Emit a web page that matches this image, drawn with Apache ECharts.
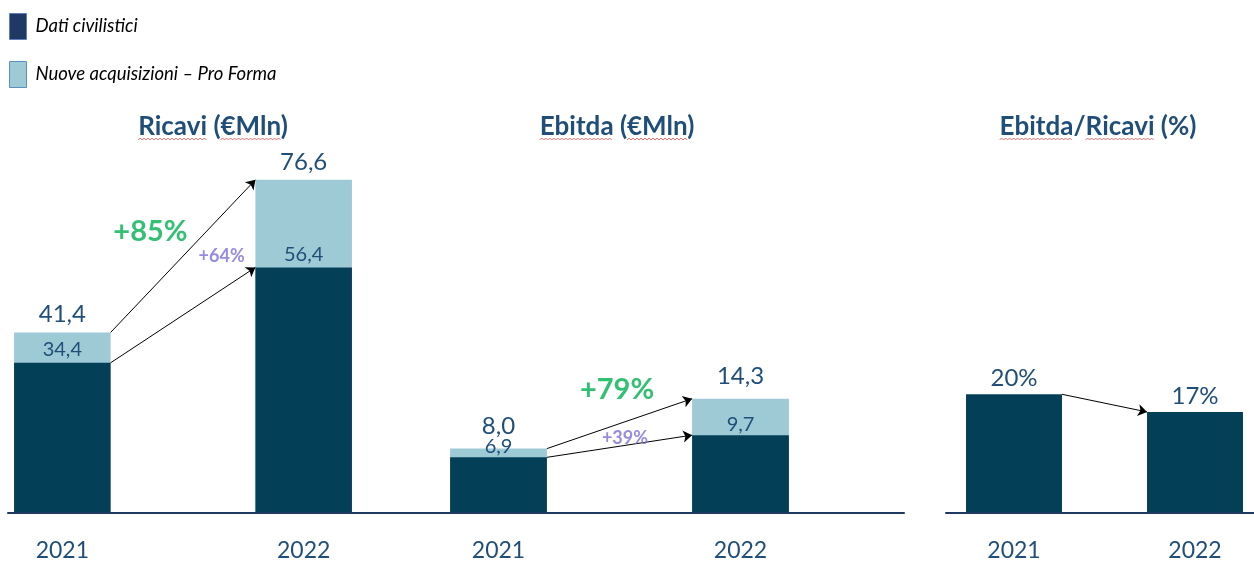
<!DOCTYPE html>
<html><head><meta charset="utf-8">
<script src="https://cdn.jsdelivr.net/npm/echarts@6/dist/echarts.min.js"></script>
<style>html,body{margin:0;padding:0;background:#fff}#c{width:1254px;height:562px}</style>
</head><body><div id="c"></div>
<script>
// ---- data ----
const YEARS = ['2021', '2022'];
const RICAVI_CIVIL = [34.4, 56.4];
const RICAVI_TOT = [41.4, 76.6];
const EBITDA_CIVIL = [6.9, 9.7];
const EBITDA_TOT = [8.0, 14.3];
const MARGIN = [20, 17];
const GROWTH_RICAVI = ['+85%', '+64%'];   // totale, civilistici
const GROWTH_EBITDA = ['+79%', '+39%'];
const TITLES = ['Ricavi (€Mln)', 'Ebitda (€Mln)', 'Ebitda/Ricavi (%)'];
const TITLE_MARKED = [['Ricavi', '€Mln'], ['Ebitda', '€Mln'], ['Ebitda', 'Ricavi']];
const S_CIVIL = 'Dati civilistici';
const S_PRO = 'Nuove acquisizioni – Pro Forma';

// ---- style ----
const FONT = 'Lato';
const DARK = '#033f57', LIGHT = '#9ecad6', NAVY = '#1f4e79', LINE = '#1f3864';
const GREEN = '#00b050', PURPLE = '#7a6fd8';
const BAR_FRAC = 0.8;          // bar width as share of band (Ricavi / Ebitda panels)
const BAR_FRAC_M = 0.53;       // bar width share for the margin panel
const TITLE_FONT = 'bold 26px ' + FONT;
const fmt = v => v.toFixed(1).replace('.', ',');
const cats3 = [YEARS[0], '', YEARS[1]];
const spread = a => [a[0], '-', a[1]];

const chart = echarts.init(document.getElementById('c'));
const xLabel = {show: true, fontSize: 23, color: NAVY, fontFamily: FONT, margin: 27, interval: 0};
const catAxis = (grid, data, bg) => ({type: 'category', gridIndex: grid, data, boundaryGap: bg !== false, axisLine: {show: false}, axisTick: {show: false}, axisLabel: xLabel});
const valX = (grid, min, max) => ({type: 'value', gridIndex: grid, min, max, show: false});
const yAx = (grid, max) => ({type: 'value', gridIndex: grid, min: 0, max, show: false});
const base = grid => ({type: 'category', gridIndex: grid, data: [''], axisLine: {show: true, lineStyle: {color: LINE, width: 2}}, axisTick: {show: false}, axisLabel: {show: false}});
const arrowStyle = {symbol: ['none', 'arrow'], symbolSize: 9, lineStyle: {color: '#000', width: 1, opacity: 1}};

function stackPanel(xi, yi, civil, tot, totDist, inDist, growth, gPos) {
  const e = BAR_FRAC / 2;
  return [
    {type: 'bar', name: S_PRO, xAxisIndex: xi, yAxisIndex: yi, data: spread(tot), barWidth: (BAR_FRAC*100)+'%', barGap: '-100%',
     itemStyle: {color: LIGHT}, label: {show: true, position: 'top', distance: totDist, fontSize: 24, color: NAVY, fontFamily: FONT, formatter: p => fmt(p.value)}},
    {type: 'bar', name: S_CIVIL, xAxisIndex: xi, yAxisIndex: yi, data: spread(civil), barWidth: (BAR_FRAC*100)+'%', barGap: '-100%',
     itemStyle: {color: DARK}, label: {show: true, position: 'top', distance: inDist, fontSize: 20, color: NAVY, fontFamily: FONT, formatter: p => fmt(p.value)}},
    Object.assign({type: 'lines', coordinateSystem: 'cartesian2d', xAxisIndex: xi + 1, yAxisIndex: yi, z: 5,
     data: [{coords: [[e, tot[0]], [2 - e, tot[1]]]}, {coords: [[e, civil[0]], [2 - e, civil[1]]]}]}, arrowStyle),
    {type: 'scatter', xAxisIndex: xi + 1, yAxisIndex: yi, symbolSize: 0, z: 6,
     data: [{name: growth[0], value: gPos[0], label: {fontSize: 29, color: GREEN}},
            {name: growth[1], value: gPos[1], label: {fontSize: 18, color: PURPLE}}],
     label: {show: true, position: 'inside', formatter: '{b}', fontFamily: FONT, fontWeight: 'bold'}}
  ];
}

const series = [
  ...stackPanel(0, 0, RICAVI_CIVIL, RICAVI_TOT, 6, 3, GROWTH_RICAVI, [[0.73, 64.6], [1.32, 58.9]]),
  ...stackPanel(2, 1, EBITDA_CIVIL, EBITDA_TOT, 10, 1, GROWTH_EBITDA, [[0.98, 15.5], [1.045, 9.3]]),
  {type: 'bar', name: S_CIVIL, xAxisIndex: 4, yAxisIndex: 2, data: MARGIN, barWidth: (BAR_FRAC_M*100)+'%', clip: false,
   itemStyle: {color: DARK}, label: {show: true, position: 'top', distance: 4, fontSize: 24, color: NAVY, fontFamily: FONT, formatter: p => p.value + '%'}},
  Object.assign({type: 'lines', coordinateSystem: 'cartesian2d', xAxisIndex: 5, yAxisIndex: 2, z: 5,
   data: [{coords: [[BAR_FRAC_M / 2, MARGIN[0]], [1 - BAR_FRAC_M / 2, MARGIN[1]]]}]}, arrowStyle)
];

// titles + spell-check style wavy underlines
const titleX = [213, 617, 1098], titleY = 127;
const ctx = document.createElement('canvas').getContext('2d');
ctx.font = TITLE_FONT;
const graphics = [];
TITLES.forEach((t, i) => {
  graphics.push({type: 'text', x: titleX[i], y: titleY,
    style: {text: t, font: TITLE_FONT, fill: NAVY, align: 'center', verticalAlign: 'middle', textAlign: 'center', textVerticalAlign: 'middle'}});
  const x0 = titleX[i] - ctx.measureText(t).width / 2;
  TITLE_MARKED[i].forEach(w => {
    const s = x0 + ctx.measureText(t.slice(0, t.indexOf(w))).width;
    const wd = ctx.measureText(w).width;
    const pts = [];
    for (let k = 0, x = s; x <= s + wd; k++, x += 2) pts.push([x, titleY + 12 + (k % 2 ? -1 : 1)]);
    graphics.push({type: 'polyline', shape: {points: pts}, style: {stroke: '#e26b6b', lineWidth: 1, fill: null}, silent: true});
  });
});

const option = {
  animation: false,
  textStyle: {fontFamily: FONT},
  grid: [
    {left: 2, width: 362, top: 100, bottom: 49},
    {left: 438, width: 363, top: 100, bottom: 49},
    {left: 1014, width: 181, top: 100, bottom: 49},
    {left: 8, width: 896, top: 100, bottom: 49},
    {left: 946, width: 308, top: 100, bottom: 49}
  ],
  xAxis: [
    catAxis(0, cats3), valX(0, -0.5, 2.5),
    catAxis(1, cats3), valX(1, -0.5, 2.5),
    catAxis(2, YEARS, false), valX(2, 0, 1),
    base(3), base(4)
  ],
  yAxis: [yAx(0, 95), yAx(1, 52), yAx(2, 70), yAx(3, 1), yAx(4, 1)],
  legend: {
    orient: 'vertical', left: 9, top: 13, padding: 0, itemWidth: 17, itemHeight: 26, itemGap: 21, selectedMode: false,
    icon: 'rect',
    textStyle: {fontStyle: 'italic', fontSize: 18.5, color: '#000', fontFamily: FONT, padding: [0, 0, 0, 4]},
    data: [
      {name: S_CIVIL, itemStyle: {color: '#203864', borderColor: '#5b7fbf', borderWidth: 1}},
      {name: S_PRO, itemStyle: {color: LIGHT, borderColor: '#5b8fbf', borderWidth: 1}}
    ]
  },
  graphic: graphics,
  series
};
chart.setOption(option);
</script>
</body></html>
